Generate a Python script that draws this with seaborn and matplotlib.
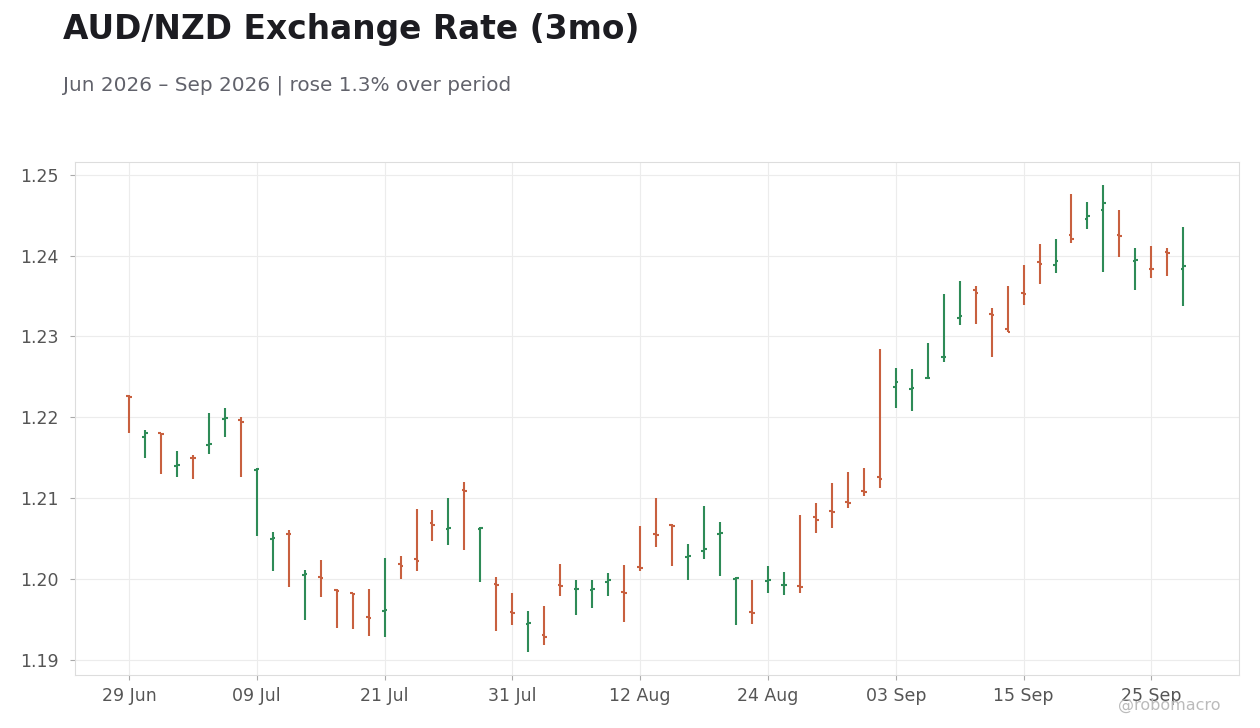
import numpy as np
import pandas as pd
import matplotlib
matplotlib.use("Agg")
import matplotlib.pyplot as plt
import seaborn as sns

# daily OHLC, business days 29 Jun - 29 Sep 2026
opens = [1.2226, 1.2176, 1.2180, 1.2140, 1.2150, 1.2166, 1.2198, 1.2197, 1.2135, 1.2049,
         1.2056, 1.2005, 1.2002, 1.1986, 1.1982, 1.1953, 1.1960, 1.2018, 1.2024, 1.2069,
         1.2062, 1.2110, 1.2062, 1.1994, 1.1959, 1.1944, 1.1930, 1.1992, 1.1987, 1.1986,
         1.1996, 1.1984, 1.2015, 1.2056, 1.2067, 1.2027, 1.2035, 1.2056, 1.2000, 1.1959,
         1.1997, 1.1992, 1.1991, 1.2076, 1.2084, 1.2095, 1.2109, 1.2126, 1.2238, 1.2235,
         1.2248, 1.2274, 1.2323, 1.2357, 1.2328, 1.2309, 1.2354, 1.2392, 1.2389, 1.2425,
         1.2446, 1.2457, 1.2426, 1.2393, 1.2384, 1.2405, 1.2383]
highs = [1.2227, 1.2184, 1.2181, 1.2158, 1.2153, 1.2205, 1.2212, 1.2200, 1.2137, 1.2058,
         1.2060, 1.2011, 1.2023, 1.1987, 1.1983, 1.1988, 1.2026, 1.2028, 1.2087, 1.2085,
         1.2100, 1.2120, 1.2064, 1.2002, 1.1982, 1.1960, 1.1967, 1.2018, 1.1998, 1.1999,
         1.2007, 1.2017, 1.2065, 1.2100, 1.2068, 1.2043, 1.2090, 1.2070, 1.2002, 1.1999,
         1.2016, 1.2009, 1.2079, 1.2094, 1.2119, 1.2132, 1.2137, 1.2285, 1.2261, 1.2260,
         1.2292, 1.2352, 1.2369, 1.2362, 1.2335, 1.2363, 1.2389, 1.2414, 1.2421, 1.2476,
         1.2467, 1.2487, 1.2456, 1.2409, 1.2412, 1.2409, 1.2436]
lows = [1.2181, 1.2150, 1.2130, 1.2126, 1.2123, 1.2155, 1.2175, 1.2126, 1.2053, 1.2010,
        1.1990, 1.1949, 1.1978, 1.1939, 1.1938, 1.1929, 1.1928, 1.2000, 1.2010, 1.2047,
        1.2042, 1.2036, 1.1996, 1.1935, 1.1943, 1.1909, 1.1918, 1.1979, 1.1955, 1.1964,
        1.1979, 1.1947, 1.2010, 1.2040, 1.2016, 1.1999, 1.2025, 1.2004, 1.1943, 1.1944,
        1.1983, 1.1980, 1.1983, 1.2057, 1.2063, 1.2088, 1.2102, 1.2113, 1.2212, 1.2208,
        1.2247, 1.2269, 1.2314, 1.2315, 1.2275, 1.2305, 1.2339, 1.2365, 1.2378, 1.2416,
        1.2433, 1.2380, 1.2399, 1.2357, 1.2372, 1.2375, 1.2338]
closes = [1.2225, 1.2180, 1.2179, 1.2141, 1.2149, 1.2167, 1.2199, 1.2194, 1.2136, 1.2050,
          1.2055, 1.2006, 1.2001, 1.1985, 1.1981, 1.1952, 1.1961, 1.2016, 1.2022, 1.2067,
          1.2063, 1.2109, 1.2063, 1.1993, 1.1958, 1.1945, 1.1928, 1.1991, 1.1988, 1.1987,
          1.1998, 1.1983, 1.2014, 1.2054, 1.2066, 1.2028, 1.2037, 1.2057, 1.2001, 1.1958,
          1.1998, 1.1993, 1.1990, 1.2073, 1.2083, 1.2094, 1.2107, 1.2124, 1.2244, 1.2236,
          1.2249, 1.2275, 1.2325, 1.2354, 1.2326, 1.2306, 1.2352, 1.2390, 1.2393, 1.2421,
          1.2449, 1.2465, 1.2424, 1.2395, 1.2383, 1.2403, 1.2387]

dates = pd.bdate_range("2026-06-29", "2026-09-29")
y_ticks = [1.19, 1.20, 1.21, 1.22, 1.23, 1.24, 1.25]

df = pd.DataFrame({"date": dates, "open": opens, "high": highs, "low": lows, "close": closes})
df["x"] = np.arange(len(df))
df["up"] = df["close"] >= df["open"]

UP = "#2e8b57"
DOWN = "#c8603f"
colors = np.where(df["up"], UP, DOWN)

sns.set_theme(style="whitegrid", rc={
    "grid.color": "#ececec",
    "grid.linewidth": 0.8,
    "axes.edgecolor": "#dddddd",
    "axes.linewidth": 0.8,
    "xtick.bottom": True,
    "ytick.left": True,
    "xtick.major.size": 3.5,
    "ytick.major.size": 3.5,
    "xtick.major.width": 0.8,
    "ytick.major.width": 0.8,
})
plt.rcParams["font.family"] = ["DejaVu Sans"]

fig = plt.figure(figsize=(12.6, 7.28), dpi=100)
ax = fig.add_axes([0.0595, 0.0728, 0.924, 0.7047])

tick = 0.17
ax.vlines(df["x"], df["low"], df["high"], colors=colors, linewidth=1.5, zorder=3)
ax.hlines(df["open"], df["x"] - tick, df["x"], colors=colors, linewidth=1.5, zorder=3)
ax.hlines(df["close"], df["x"], df["x"] + tick, colors=colors, linewidth=1.5, zorder=3)

ax.set_xlim(-3.38, 69.5)
ax.set_ylim(1.1881, 1.2516)
ax.set_yticks(y_ticks)
ax.set_yticklabels([f"{v:.2f}" for v in y_ticks])
ax.set_xticks(df["x"][::8])
ax.set_xticklabels([d.strftime("%d %b") for d in df["date"][::8]])
ax.tick_params(axis="both", labelsize=12.5, color="#aaaaaa", labelcolor="#555555")
ax.tick_params(axis="x", pad=5)
ax.tick_params(axis="y", pad=8)
ax.set_xlabel("")
ax.set_ylabel("")
for s in ax.spines.values():
    s.set_visible(True)
    s.set_color("#dddddd")

fig.text(0.05, 1 - 29 / 728, "AUD/NZD Exchange Rate (3mo)", fontsize=23.7, fontweight="bold",
         color="#1c1c21", ha="left", va="center")
fig.text(0.05, 1 - 85 / 728, "Jun 2026 \u2013 Sep 2026 | rose 1.3% over period", fontsize=14.4,
         color="#61626b", ha="left", va="center")
fig.text(0.969, 1 - 705 / 728, "@robomacro", fontsize=11.5, color="#bbbbbb", ha="right", va="center")

fig.savefig("out.png", dpi=100)
